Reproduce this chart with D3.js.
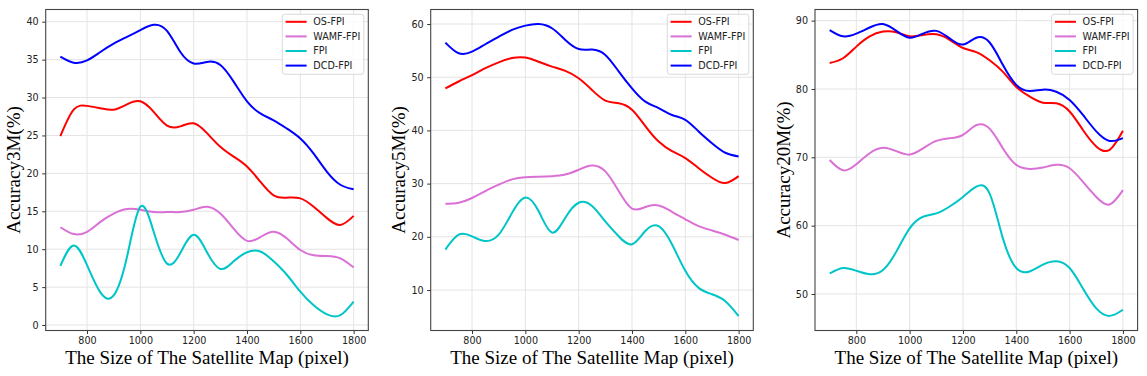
<!DOCTYPE html>
<html>
<head>
<meta charset="utf-8">
<script src="https://cdn.jsdelivr.net/npm/d3@7"></script>
<style>
  body { margin: 0; background: #fff; }
  svg { display: block; }
</style>
</head>
<body>
<div id="chart"></div>
<script>
// map sizes (pixel)
const sizes = [700, 750, 800, 850, 900, 950, 1000, 1050, 1100, 1150, 1200, 1250,
               1300, 1350, 1400, 1450, 1500, 1550, 1600, 1650, 1700, 1750, 1800];
const seriesNames = ["OS-FPI", "WAMF-FPI", "FPI", "DCD-FPI"];
const xTicks = [800, 1000, 1200, 1400, 1600, 1800];

// Accuracy 3M
const os3 = [24.9, 28.4, 28.9, 28.6, 28.4, 29.1, 29.5, 28.1, 26.3, 26.2, 26.6, 25.3, 23.5, 22.2, 20.9, 18.9, 17.1, 16.8, 16.7, 15.6, 14.1, 13.2, 14.4];
const wamf3 = [12.9, 12.0, 12.3, 13.6, 14.7, 15.3, 15.2, 14.9, 14.9, 14.9, 15.2, 15.6, 14.7, 12.7, 11.1, 11.6, 12.3, 11.4, 9.9, 9.2, 9.1, 8.8, 7.6];
const fpi3 = [7.8, 10.5, 7.9, 4.3, 3.9, 9.0, 15.6, 12.3, 8.1, 9.5, 11.9, 9.6, 7.4, 8.4, 9.6, 9.7, 8.4, 6.6, 4.4, 2.6, 1.4, 1.3, 3.1];
const dcd3 = [35.4, 34.6, 34.9, 36.0, 37.1, 38.0, 38.9, 39.6, 38.8, 36.0, 34.5, 34.7, 34.3, 32.1, 29.5, 27.9, 27.0, 25.9, 24.6, 22.6, 20.2, 18.5, 17.9];
const yTicks3 = [0, 5, 10, 15, 20, 25, 30, 35, 40];

// Accuracy 5M
const os5 = [47.9, 49.2, 50.4, 51.7, 52.8, 53.6, 53.7, 52.9, 52.0, 51.2, 49.8, 47.6, 45.6, 45.1, 43.9, 40.8, 37.9, 36.1, 34.8, 32.9, 31.1, 30.1, 31.4];
const wamf5 = [26.2, 26.4, 27.3, 28.6, 29.8, 30.8, 31.2, 31.3, 31.4, 31.7, 32.6, 33.4, 32.3, 28.6, 25.3, 25.6, 25.9, 24.7, 23.3, 22.0, 21.2, 20.4, 19.4];
const fpi5 = [17.6, 20.4, 20.1, 19.2, 20.4, 24.5, 27.4, 24.8, 20.8, 23.6, 26.4, 25.8, 22.9, 20.1, 18.6, 21.1, 22.0, 18.6, 13.6, 10.4, 9.2, 7.9, 5.1];
const dcd5 = [56.5, 54.5, 54.8, 56.2, 57.6, 58.9, 59.7, 60.0, 59.2, 57.0, 55.3, 55.2, 54.2, 51.1, 47.9, 45.4, 44.2, 42.9, 42.0, 39.8, 37.6, 35.8, 35.1];
const yTicks5 = [10, 20, 30, 40, 50, 60];

// Accuracy 20M
const os20 = [83.8, 84.5, 86.2, 87.7, 88.4, 88.3, 87.7, 87.9, 88.0, 87.2, 86.0, 85.4, 84.2, 82.5, 80.3, 78.9, 78.0, 77.9, 76.7, 74.0, 71.6, 71.1, 73.9];
const wamf20 = [69.6, 68.1, 69.0, 70.6, 71.4, 70.9, 70.4, 71.3, 72.4, 72.8, 73.3, 74.7, 74.2, 71.3, 68.9, 68.3, 68.5, 68.9, 68.4, 66.4, 64.2, 63.1, 65.2];
const fpi20 = [53.0, 53.8, 53.4, 52.9, 53.5, 56.2, 59.6, 61.3, 61.8, 62.8, 64.2, 65.7, 64.7, 58.1, 53.8, 53.3, 54.3, 54.8, 53.8, 50.8, 47.9, 46.8, 47.7];
const dcd20 = [88.6, 87.7, 88.1, 89.0, 89.5, 88.5, 87.5, 88.1, 88.5, 87.4, 86.5, 87.5, 86.8, 83.5, 80.6, 79.7, 79.9, 79.6, 78.4, 76.2, 73.8, 72.4, 72.8];
const yTicks20 = [50, 60, 70, 80, 90];

const colors = ["#ff0000", "#da70d6", "#00c5c8", "#0000ff"];
const tickFont = "'DejaVu Sans', sans-serif";
const labelFont = "'Liberation Serif', 'Times New Roman', serif";

const svg = d3.select("#chart")
    .append("svg")
    .attr("width", 1147)
    .attr("height", 376);

const panels = [
    { left: 45.7, yLabel: "Accuracy3M(%)", yDomain: [-0.72, 41.61], yTicks: yTicks3, series: [os3, wamf3, fpi3, dcd3] },
    { left: 430.7, yLabel: "Accuracy5M(%)", yDomain: [2.39, 62.73], yTicks: yTicks5, series: [os5, wamf5, fpi5, dcd5] },
    { left: 815, yLabel: "Accuracy20M(%)", yDomain: [44.66, 91.63], yTicks: yTicks20, series: [os20, wamf20, fpi20, dcd20] }
];

const plotW = 322.6, plotTop = 9.5, plotBottom = 330.5;

panels.forEach(p => {
    const g = svg.append("g").attr("transform", `translate(${p.left},0)`);

    const x = d3.scaleLinear().domain([645, 1855]).range([0, plotW]);
    const y = d3.scaleLinear().domain(p.yDomain).range([plotBottom, plotTop]);

    // grid
    g.append("g").selectAll("line")
        .data(xTicks).join("line")
        .attr("x1", d => x(d)).attr("x2", d => x(d))
        .attr("y1", plotTop).attr("y2", plotBottom)
        .attr("stroke", "#e4e4e4").attr("stroke-width", 1);
    g.append("g").selectAll("line")
        .data(p.yTicks).join("line")
        .attr("x1", 0).attr("x2", plotW)
        .attr("y1", d => y(d)).attr("y2", d => y(d))
        .attr("stroke", "#e4e4e4").attr("stroke-width", 1);

    // curves
    const line = d3.line()
        .x((d, i) => x(sizes[i]))
        .y(d => y(d))
        .curve(d3.curveNatural);

    p.series.forEach((s, i) => {
        g.append("path")
            .datum(s)
            .attr("fill", "none")
            .attr("stroke", colors[i])
            .attr("stroke-width", 2)
            .attr("d", line);
    });

    // axes
    const xAxis = g.append("g")
        .attr("transform", `translate(0,${plotBottom})`)
        .call(d3.axisBottom(x).tickValues(xTicks).tickFormat(d3.format("d"))
            .tickSize(3.5).tickPadding(3.5).tickSizeOuter(0));
    const yAxis = g.append("g")
        .call(d3.axisLeft(y).tickValues(p.yTicks).tickFormat(d3.format("d"))
            .tickSize(3.5).tickPadding(3.5).tickSizeOuter(0));
    [xAxis, yAxis].forEach(a => {
        a.select(".domain").remove();
        a.selectAll("line").attr("stroke", "#333");
        a.selectAll("text")
            .attr("fill", "#222")
            .style("font-family", tickFont)
            .style("font-size", "9.6px");
    });

    // frame
    g.append("rect")
        .attr("x", 0).attr("y", plotTop)
        .attr("width", plotW).attr("height", plotBottom - plotTop)
        .attr("fill", "none")
        .attr("stroke", "#444")
        .attr("stroke-width", 1.1);

    // axis labels
    g.append("text")
        .attr("transform", `translate(-32,${(plotTop + plotBottom) / 2}) rotate(-90)`)
        .attr("text-anchor", "middle")
        .attr("dy", "0.35em")
        .style("font-family", labelFont)
        .style("font-size", "19px")
        .attr("fill", "#000")
        .text(p.yLabel);

    g.append("text")
        .attr("x", plotW / 2)
        .attr("y", 364)
        .attr("text-anchor", "middle")
        .style("font-family", labelFont)
        .style("font-size", "19px")
        .attr("fill", "#000")
        .text("The Size of The Satellite Map (pixel)");

    // legend
    const lg = g.append("g").attr("transform", `translate(${plotW - 86},14.3)`);
    lg.append("rect")
        .attr("width", 81.5).attr("height", 60)
        .attr("rx", 2.5)
        .attr("fill", "#fff").attr("fill-opacity", 0.8)
        .attr("stroke", "#d0d0d0").attr("stroke-width", 0.8);
    seriesNames.forEach((name, i) => {
        const yy = 7.5 + i * 14.6;
        lg.append("line")
            .attr("x1", 3.3).attr("x2", 24.3)
            .attr("y1", yy).attr("y2", yy)
            .attr("stroke", colors[i]).attr("stroke-width", 2);
        lg.append("text")
            .attr("x", 31)
            .attr("y", yy)
            .attr("dy", "0.35em")
            .style("font-family", tickFont)
            .style("font-size", "9.6px")
            .attr("fill", "#222")
            .text(name);
    });
});
</script>
</body>
</html>
